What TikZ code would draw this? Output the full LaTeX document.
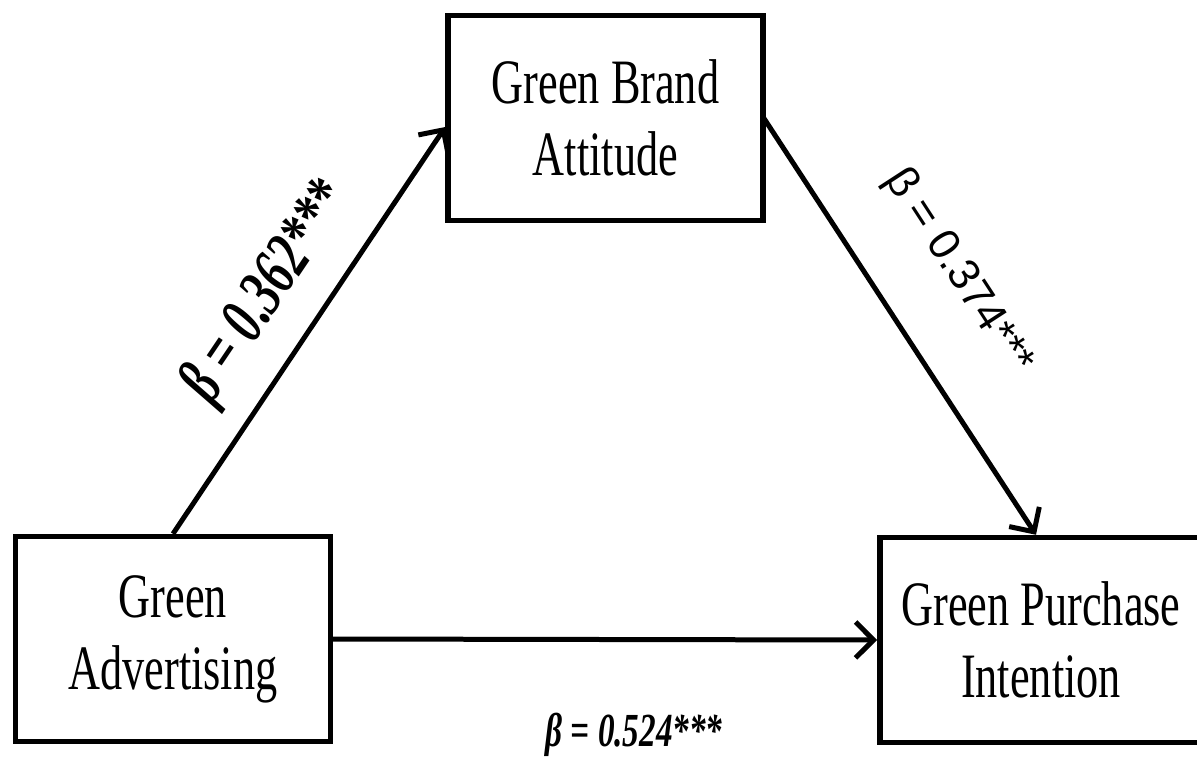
\documentclass[tikz,border=0pt]{standalone}
\usepackage{fontspec}
\setmainfont{Liberation Serif}[FakeStretch=0.7]
\newfontfamily\labsans{Liberation Sans}
\usetikzlibrary{arrows.meta}
\tikzset{
  box/.style={draw, line width=0.11cm, minimum width=6.3cm, minimum height=4.1cm,
    align=center, inner sep=0pt, font=\fontsize{36}{41}\selectfont},
  link/.style={line width=0.1cm, -{Straight Barb[length=0.36cm,width=0.72cm]}},
  coef/.style={inner sep=0pt, font=\bfseries\itshape\fontsize{27}{30}\selectfont}
}

\begin{document}
\begin{tikzpicture}[x=0.02cm,y=-0.02cm]
\useasboundingbox (0,0) rectangle (1197,758);
\clip (0,0) rectangle (1197,758);

\node[box] (ga) at (173,639) {Green\\Advertising};
\node[box] (gba) at (605.5,118) {Green Brand\\Attitude};
\node[box, minimum width=6.45cm] (gpi) at (1041,640) {Green Purchase\\Intention};

\draw[link] (ga.north) -- ([yshift=-0.18cm]gba.west);
\draw[link] ([xshift=-0.04cm]gba.east) -- ([xshift=-0.1cm]gpi.north);
\draw[link] (ga.east) -- (gpi.west);

\node[coef, rotate=56, font=\bfseries\itshape\fontsize{38}{40}\selectfont] (b1) at (268,293) {β = 0.362***};
\node[inner sep=0pt, rotate=-57, font=\labsans\fontsize{25}{27}\selectfont] (b2) at (958,272) {β = 0.374***};
\node[coef] (b3) at (634,735) {β = 0.524***};
\end{tikzpicture}
\end{document}
